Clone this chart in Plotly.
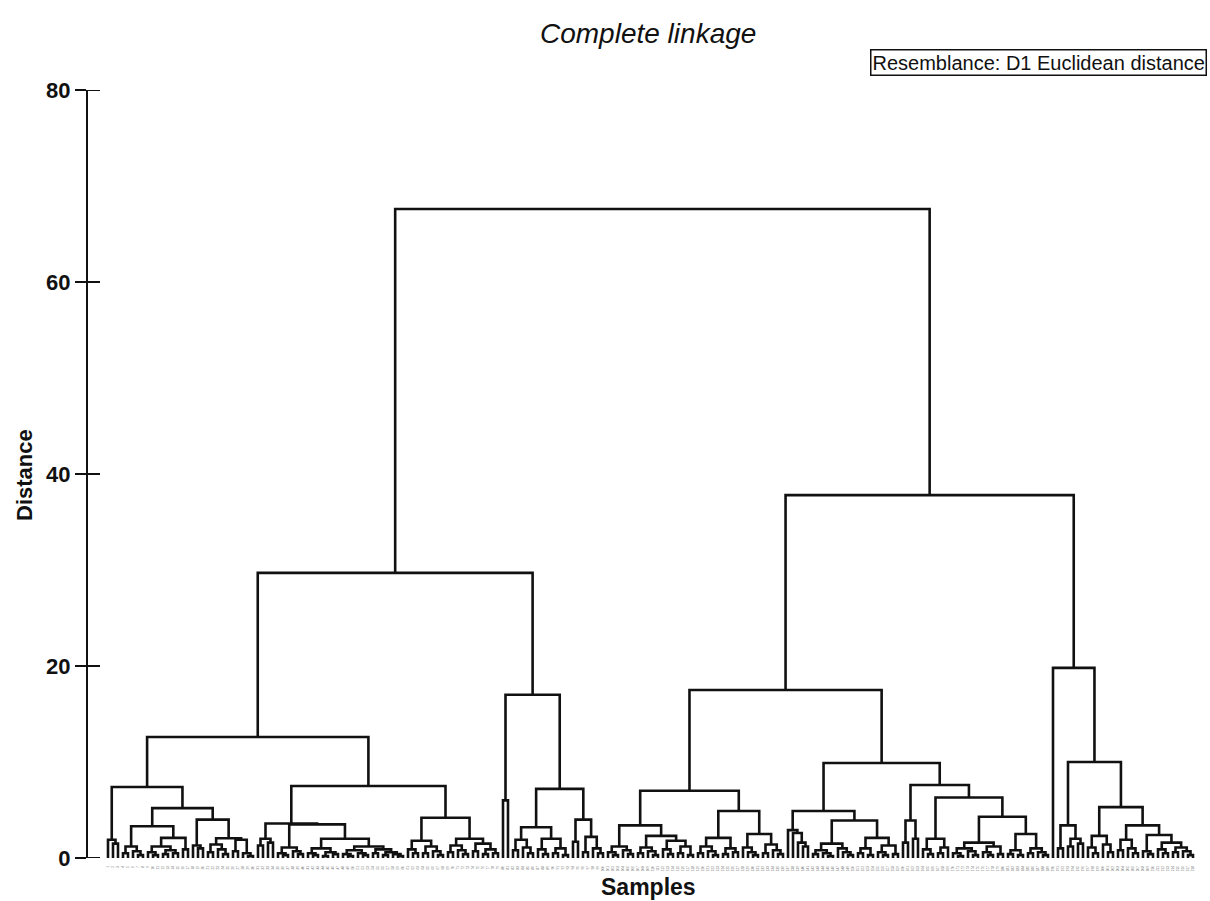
import plotly.graph_objects as go

# ---- cluster tree: each node is [merge distance, left, right]; 0 = one sample ----
# left group
grp_a0 = [1.9, 0, [1.5, 0, 0]]
grp_a1 = [1.2, [0.5, 0, 0], [0.7, 0, [0.3, 0, 0]]]
grp_a2 = [2.1, [1.2, [0.6, 0, [0.3, 0, 0]], [0.8, [0.4, 0, 0], [0.5, 0, 0]]], [0.9, 0, 0]]
grp_a3 = [1.3, 0, [1.0, 0, 0]]
grp_a4 = [2.05, [1.4, [0.6, 0, 0], [0.9, 0, [0.4, 0, 0]]], [1.9, [0.7, 0, 0], [0.5, 0, [0.2, 0, 0]]]]

grp_c1 = [2.0, [1.3, 0, 0], [1.6, 0, 0]]
grp_c2 = [1.1, [0.5, 0, [0.3, 0, 0]], [0.7, 0, [0.4, 0, 0]]]
grp_c3 = [1.0, [0.5, 0, [0.3, 0, 0]], [0.6, [0.2, 0, 0], [0.4, 0, 0]]]
grp_c4 = [1.2, [0.8, [0.4, 0, [0.2, 0, 0]], [0.5, 0, [0.3, 0, 0]]],
          [0.9, [0.5, 0, 0], [0.6, [0.3, 0, 0], [0.4, 0, [0.2, 0, 0]]]]]
grp_d1 = [1.8, [0.9, 0, [0.5, 0, 0]], [1.2, [0.5, 0, 0], [0.7, 0, [0.3, 0, 0]]]]
grp_d2 = [2.0, [1.3, [0.6, 0, 0], [0.8, 0, [0.4, 0, 0]]],
          [1.5, [0.7, 0, 0], [0.9, [0.4, 0, 0], [0.5, 0, 0]]]]

grp_e0 = [6.0, 0, 0]
grp_e1 = [1.9, [0.8, 0, 0], [1.1, 0, [0.5, 0, 0]]]
grp_e2 = [2.0, [0.9, 0, [0.4, 0, 0]], [1.0, [0.5, 0, 0], [0.3, 0, 0]]]
grp_e3 = [1.7, 0, 0]
grp_e4 = [2.2, [0.6, 0, 0], [1.0, 0, [0.5, 0, 0]]]

# right group
grp_f1 = [1.2, [0.6, 0, [0.3, 0, 0]], [0.8, 0, [0.4, 0, 0]]]
grp_f2 = [2.3, [1.1, [0.5, 0, 0], [0.7, 0, [0.3, 0, 0]]],
          [1.8, [0.9, 0, [0.4, 0, 0]], [1.2, [0.5, 0, 0], [0.3, 0, 0]]]]
grp_f3 = [2.1, [1.2, [0.5, 0, 0], [0.7, 0, [0.3, 0, 0]]], [1.0, [0.4, 0, 0], [0.6, 0, 0]]]
grp_f4 = [2.5, [1.1, 0, [0.6, 0, [0.3, 0, 0]]], [1.4, [0.5, 0, 0], [0.8, 0, [0.4, 0, 0]]]]

grp_g1 = [2.9, 0, [2.6, 0, [1.6, 0, [1.2, 0, 0]]]]
grp_g2 = [1.5, [0.8, [0.4, 0, 0], [0.5, 0, [0.2, 0, 0]]], [1.0, 0, [0.6, 0, [0.3, 0, 0]]]]
grp_g3 = [2.1, [1.0, [0.5, 0, 0], [0.3, 0, 0]], [1.3, [0.6, 0, [0.3, 0, 0]], [0.4, 0, 0]]]
grp_g4 = [3.9, [1.6, 0, 0], [2.0, 0, 0]]
grp_g5 = [2.0, [0.9, 0, [0.4, 0, 0]], [1.1, [0.5, 0, 0], 0]]
grp_g6 = [1.6, [1.0, [0.5, 0, [0.2, 0, 0]], [0.7, 0, [0.3, 0, 0]]],
          [1.2, [0.6, 0, [0.3, 0, 0]], [0.4, 0, 0]]]
grp_g7 = [2.5, [0.8, [0.4, 0, 0], [0.3, 0, 0]], [1.0, [0.5, 0, 0], [0.6, 0, [0.3, 0, 0]]]]

grp_h1 = [3.4, [1.0, 0, 0], [2.0, [1.2, 0, 0], [1.5, 0, 0]]]
grp_h2 = [2.3, [1.1, 0, [0.5, 0, 0]], [1.4, 0, [0.6, 0, 0]]]
grp_h3 = [1.9, [0.8, 0, 0], [1.0, 0, [0.5, 0, 0]]]
grp_h4 = [0.7, 0, [0.4, 0, 0]]
grp_h5 = [0.9, 0, [0.5, 0, 0]]
grp_h6 = [1.1, [0.6, 0, 0], [0.7, 0, [0.3, 0, 0]]]

# upper merges
left_a = [7.4, grp_a0, [5.2, [3.3, grp_a1, grp_a2], [4.0, grp_a3, grp_a4]]]
left_b = [7.5, [3.6, grp_c1, [3.5, grp_c2, [2.0, grp_c3, grp_c4]]], [4.2, grp_d1, grp_d2]]
left_c = [17.0, grp_e0, [7.2, [3.2, grp_e1, grp_e2], [4.0, grp_e3, grp_e4]]]
left_group = [29.7, [12.6, left_a, left_b], left_c]

right_f = [7.0, [3.4, grp_f1, grp_f2], [4.9, grp_f3, grp_f4]]
right_g = [9.9, [4.9, grp_g1, [3.9, grp_g2, grp_g3]],
           [7.6, grp_g4, [6.3, grp_g5, [4.3, grp_g6, grp_g7]]]]
right_h = [19.8, 0, [10.0, grp_h1, [5.3, grp_h2, [3.4, grp_h3, [2.4, grp_h4, [1.6, grp_h5, grp_h6]]]]]]
right_group = [37.8, [17.5, right_f, right_g], right_h]

tree = [67.6, left_group, right_group]

y_ticks = [0, 20, 40, 60, 80]

# ---- lay the tree out: samples in order, each merge centred over its two branches ----
seg_x, seg_y = [], []
leaf_pos = []


def place(node):
    if isinstance(node, int):
        x = len(leaf_pos)
        leaf_pos.append(x)
        return x, 0.0
    h, a, b = node
    xa, ya = place(a)
    xb, yb = place(b)
    seg_x.extend([xa, xa, xb, xb, None])
    seg_y.extend([ya, h, h, yb, None])
    return (xa + xb) / 2.0, h


place(tree)

# ---- page geometry ----
W_PX, H_PX = 1210, 901
M_L, M_R, M_T, M_B = 88, 8, 90, 43
plot_w = W_PX - M_L - M_R
plot_h = H_PX - M_T - M_B
step_px = 5.0
x_lo = -20.0 / step_px
x_hi = x_lo + plot_w / step_px


def px_x(px):
    return (px - M_L) / plot_w


def px_y(py):
    return (H_PX - M_B - py) / plot_h


fig = go.Figure()
fig.add_trace(go.Scatter(
    x=seg_x, y=seg_y, mode="lines",
    line=dict(color="#111111", width=2.6),
    hoverinfo="skip", showlegend=False,
))

font_main = "Liberation Sans, Arial, sans-serif"

fig.update_layout(
    width=W_PX, height=H_PX,
    margin=dict(l=M_L, r=M_R, t=M_T, b=M_B, pad=0),
    paper_bgcolor="white", plot_bgcolor="white",
    showlegend=False,
    xaxis=dict(
        range=[x_lo, x_hi], showgrid=False, zeroline=False, showline=False,
        tickmode="array", tickvals=leaf_pos,
        ticktext=[str(i + 1) for i in leaf_pos],
        tickangle=-90, ticks="outside", ticklen=6, tickcolor="white",
        tickfont=dict(size=3, color="#666666", family=font_main),
    ),
    yaxis=dict(
        range=[0, 80], showgrid=False, zeroline=False,
        showline=True, linecolor="#111111", linewidth=2,
        tickmode="array", tickvals=y_ticks, ticktext=[str(v) for v in y_ticks],
        ticks="outside", ticklen=11, tickwidth=2, tickcolor="#111111",
        tickfont=dict(size=22, color="#111111", family=font_main, weight="bold"),
    ),
)

# inner half of the tick marks (ticks cross the axis line)
for v in y_ticks:
    fig.add_shape(type="line", xref="paper", yref="y",
                  x0=0, x1=px_x(100), y0=v, y1=v,
                  line=dict(color="#111111", width=2))

fig.add_annotation(text="<i>Complete linkage</i>", xref="paper", yref="paper",
                   x=px_x(648), y=px_y(33), xanchor="center", yanchor="middle",
                   showarrow=False, font=dict(size=28, color="#111111", family=font_main))
fig.add_annotation(text="<b>Distance</b>", xref="paper", yref="paper",
                   x=px_x(25), y=px_y(475), xanchor="center", yanchor="middle",
                   textangle=-90, showarrow=False,
                   font=dict(size=22, color="#111111", family=font_main))
fig.add_annotation(text="<b>Samples</b>", xref="paper", yref="paper",
                   x=px_x(648), y=px_y(887), xanchor="center", yanchor="middle",
                   showarrow=False, font=dict(size=23, color="#111111", family=font_main))
fig.add_annotation(text="Resemblance: D1 Euclidean distance", xref="paper", yref="paper",
                   x=px_x(1207), y=px_y(62), xanchor="right", yanchor="middle",
                   showarrow=False, bordercolor="#111111", borderwidth=1.5, borderpad=1,
                   bgcolor="white",
                   font=dict(size=20, color="#111111", family=font_main))

fig.write_html("out.html")
